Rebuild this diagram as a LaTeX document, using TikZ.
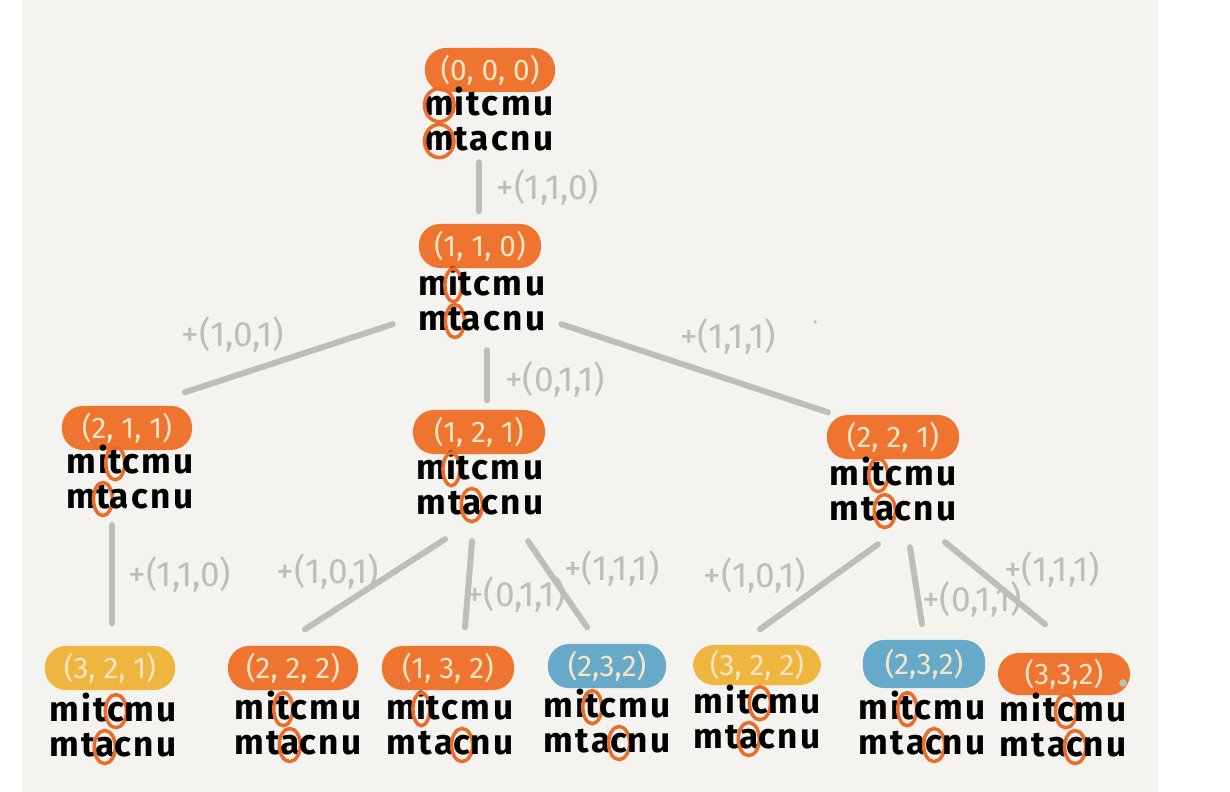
\documentclass[tikz,border=0pt]{standalone}
\usepackage{fontspec}
\setmainfont{Fira Sans}
\usepackage{tikz}
\usetikzlibrary{calc}
\definecolor{paper}{HTML}{F4F3EF}
\definecolor{blobor}{HTML}{EE7430}
\definecolor{blobye}{HTML}{EEB53F}
\definecolor{blobbl}{HTML}{67A9C9}
\definecolor{cream}{HTML}{F8E5C6}
\definecolor{edgegr}{HTML}{BEBDB8}
\definecolor{ringor}{HTML}{EB6C28}
\tikzset{ring/.style={draw=ringor, line width=1pt}}
% circled letter, optional arg = horizontal radius
\newcommand{\ring}[2][0.3em]{\tikz[baseline=(r.base)]{\node[inner sep=0pt, outer sep=0pt] (r) {#2};
  \draw[ring, overlay] ([yshift=0.28em]r.base) ellipse [x radius=#1, y radius=0.47em];}}

\begin{document}
\begin{tikzpicture}[
    x=0.01cm, y=-0.01cm,
    blob/.style={
      fill=#1,
      rounded corners=0.21cm,
      minimum width=1.3cm,
      minimum height=0.44cm,
      inner sep=1pt,
      text=cream,
      font=\fontsize{8.5}{10}\selectfont
    },
    word/.style={
      align=center,
      inner sep=2pt,
      font=\fontsize{10}{10.2}\selectfont\bfseries\addfontfeatures{LetterSpace=7}
    },
    edge/.style={
      draw=edgegr,
      line width=1.7pt,
      line cap=round
    },
    lbl/.style={
      text=edgegr,
      inner sep=1pt,
      font=\fontsize{10}{12}\selectfont
    }
  ]
  \useasboundingbox (0,0) rectangle (1230,792);
  \fill[paper] (22,0) rectangle (1158,792);

  % root
  \node[blob=blobor] (b000) at (490,70) {(0, 0, 0)};
  \node[word] (w000) at (489,119) {\ring[0.42em]{m}itcmu\\\ring[0.42em]{m}tacnu};

  % level 1
  \node[blob=blobor, minimum width=1.22cm] (b110) at (480,246) {(1, 1, 0)};
  \node[word] (w110) at (482,299) {m\ring[0.24em]{i}tcmu\\m\ring[0.27em]{t}acnu};

  % level 2
  \node[blob=blobor] (b211) at (127,428) {(2, 1, 1)};
  \node[word] (w211) at (130,477) {mi\ring[0.27em]{t}cmu\\m\ring[0.27em]{t}acnu};

  \node[blob=blobor, minimum width=1.32cm] (b121) at (479,432) {(1, 2, 1)};
  \node[word] (w121) at (480,483) {m\ring[0.24em]{i}tcmu\\mt\ring{a}cnu};

  \node[blob=blobor, minimum width=1.32cm] (b221) at (893,437) {(2, 2, 1)};
  \node[word] (w221) at (893,489) {mi\ring[0.27em]{t}cmu\\mt\ring{a}cnu};

  % level 3
  \node[blob=blobye] (b321) at (110,668) {(3, 2, 1)};
  \node[word] (w321) at (113,725) {mit\ring{c}mu\\mt\ring{a}cnu};

  \node[blob=blobor] (b222) at (293,668) {(2, 2, 2)};
  \node[word] (w222) at (298,723) {mi\ring[0.27em]{t}cmu\\mt\ring{a}cnu};

  \node[blob=blobor, minimum width=1.32cm] (b132) at (448,668) {(1, 3, 2)};
  \node[word] (w132) at (450,723) {m\ring[0.24em]{i}tcmu\\mta\ring{c}nu};

  \node[blob=blobbl, minimum width=1.18cm] (b232a) at (607,666) {(2,3,2)};
  \node[word] (w232a) at (607,721) {mi\ring[0.27em]{t}cmu\\mta\ring{c}nu};

  \node[blob=blobye, minimum width=1.28cm, minimum height=0.4cm] (b322) at (757,665) {(3, 2, 2)};
  \node[word] (w322) at (757,717) {mit\ring{c}mu\\mt\ring{a}cnu};

  \node[blob=blobbl, minimum width=1.22cm, minimum height=0.48cm] (b232b) at (924,664) {(2,3,2)};
  \node[word] (w232b) at (922,723) {mi\ring[0.27em]{t}cmu\\mta\ring{c}nu};

  \node[blob=blobor, minimum width=1.32cm, minimum height=0.42cm] (b332) at (1064,674) {(3,3,2)};
  \node[word] (w332) at (1063,725) {mit\ring{c}mu\\mta\ring{c}nu};

  % connectors
  \draw[edge] ($(w000.south)+(-10,3)$) -- ($(b110.north)+(-1,-12)$);
  \draw[edge] ($(w110.south west)+(-18,-15)$) -- ($(b211.north)+(58,-13)$);
  \draw[edge] ($(w110.south)+(5,11)$) -- ($(b121.north)+(8,-9)$);
  \draw[edge] ($(w110.south east)+(8,-15)$) -- ($(b221.north)+(-65,-2)$);
  \draw[edge] ($(w211.south)+(-18,8)$) -- ($(b321.north)+(2,-22)$);
  \draw[edge] ($(w121.south)+(-35,16)$) -- ($(b222.north)+(12,-16)$);
  \draw[edge] ($(w121.south)+(-8,18)$) -- ($(b132.north)+(17,-18)$);
  \draw[edge] ($(w121.south)+(48,18)$) -- ($(b232a.north)+(-20,-16)$);
  \draw[edge] ($(w221.south)+(-15,15)$) -- ($(b322.north)+(3,-15)$);
  \draw[edge] ($(w221.south)+(17,18)$) -- ($(b232b.north)+(-2,-15)$);
  \draw[edge] ($(w221.south)+(52,13)$) -- ($(b332.north)+(-19,-28)$);

  % connector labels
  \node[lbl] (l1) at (548,188) {+(1,1,0)};
  \node[lbl] (l2) at (233,335) {+(1,0,1)};
  \node[lbl] (l3) at (555,380) {+(0,1,1)};
  \node[lbl] (l4) at (728,337) {+(1,1,1)};
  \node[lbl] (l5) at (180,575) {+(1,1,0)};
  \node[lbl] (l6) at (328,572) {+(1,0,1)};
  \node[lbl] (l7) at (516,595) {+(0,1,1)};
  \node[lbl] (l8) at (612,569) {+(1,1,1)};
  \node[lbl] (l9) at (755,576) {+(1,0,1)};
  \node[lbl] (l10) at (972,600) {+(0,1,1)};
  \node[lbl] (l11) at (1052,570) {+(1,1,1)};

  % stray dots
  \fill[edgegr] (1123,683) circle [radius=1.1pt];
  \fill[edgegr] (815,322) circle [radius=0.5pt];
\end{tikzpicture}
\end{document}
